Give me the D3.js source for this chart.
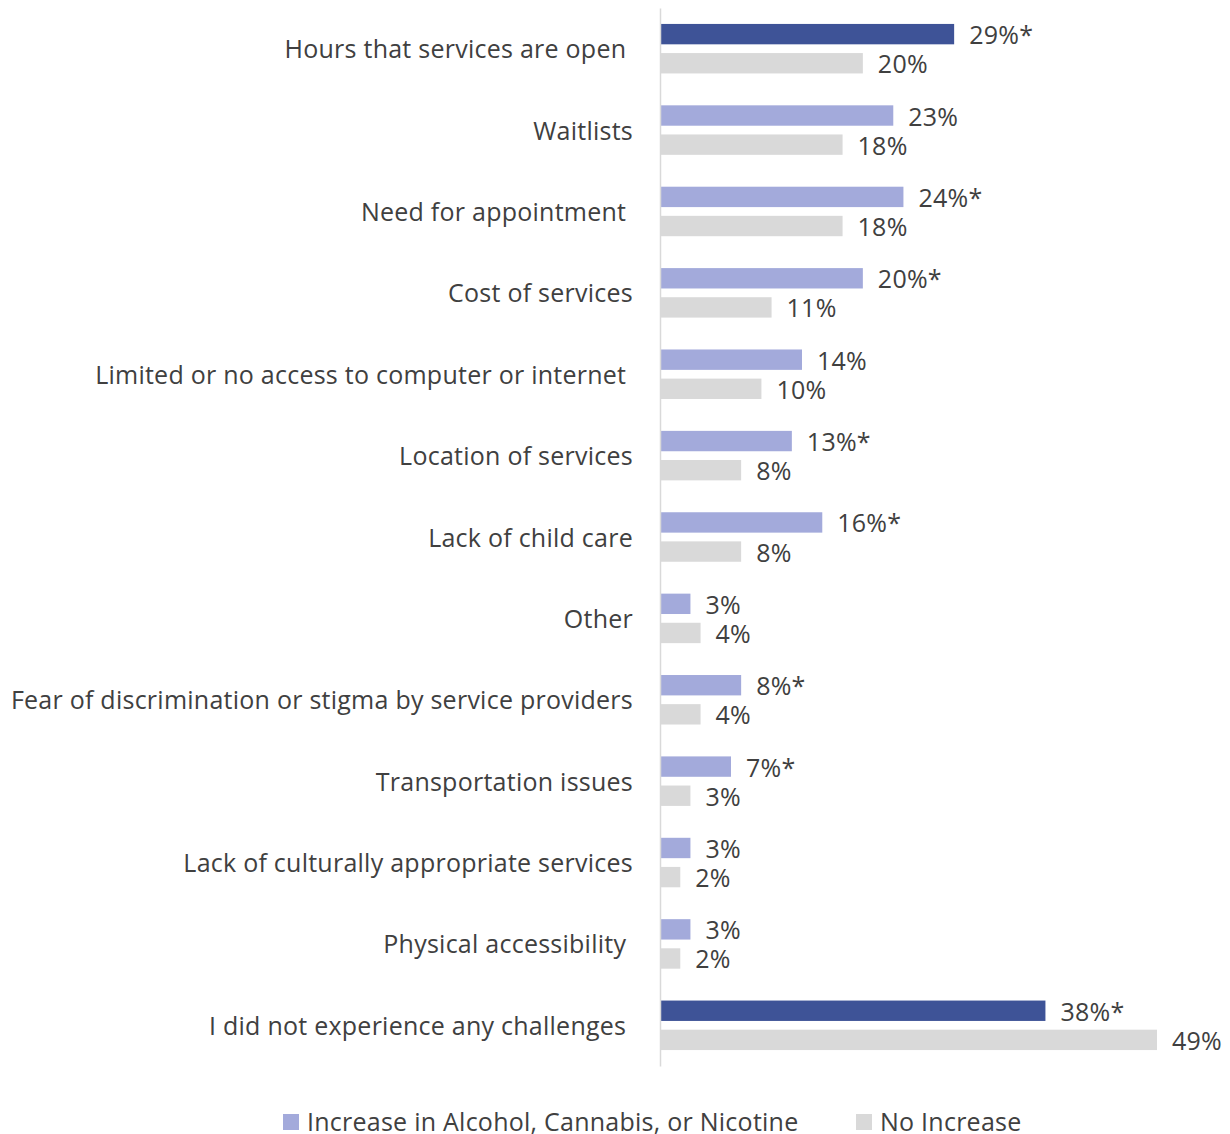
<!DOCTYPE html>
<html>
<head>
<meta charset="utf-8">
<script src="https://cdn.jsdelivr.net/npm/d3@7"></script>
<style>
  html, body { margin: 0; padding: 0; background: #ffffff; }
  svg { display: block; }
  text { font-family: "Open Sans", "Noto Sans", sans-serif; fill: #404040; letter-spacing: 0.25px; }
</style>
</head>
<body>
<svg id="chart" width="1230" height="1134"></svg>
<script>
// Barriers to accessing services, by change in substance use
const categories = [
  "Hours that services are open ",
  "Waitlists",
  "Need for appointment ",
  "Cost of services",
  "Limited or no access to computer or internet ",
  "Location of services",
  "Lack of child care",
  "Other",
  "Fear of discrimination or stigma by service providers",
  "Transportation issues",
  "Lack of culturally appropriate services",
  "Physical accessibility ",
  "I did not experience any challenges "
];
const increaseValues = [29, 23, 24, 20, 14, 13, 16, 3, 8, 7, 3, 3, 38];
const noIncreaseValues = [20, 18, 18, 11, 10, 8, 8, 4, 4, 3, 2, 2, 49];
// significance flags (marked with an asterisk)
const significant = [true, false, true, true, false, true, true, false, true, true, false, false, true];
// bars shown in the darker shade
const emphasised = [true, false, false, false, false, false, false, false, false, false, false, false, true];
const seriesNames = ["Increase in Alcohol, Cannabis, or Nicotine", "No Increase"];

const colors = { inc: "#A3AADB", incDark: "#3E5397", none: "#D9D9D9" };

const svg = d3.select("#chart");
const fontSize = 25;

const x = d3.scaleLinear().domain([0, 49]).range([660, 1157]);
const y = d3.scaleBand().domain(categories).range([8, 1066]).paddingInner(0).paddingOuter(0);
const sub = d3.scaleBand().domain(["inc", "none"]).range([0, 49.5]).paddingInner(0.3);
const groupOffset = (y.bandwidth() - 49.5) / 2;

const groups = svg.append("g").selectAll("g")
  .data(categories.map((c, i) => ({ c, i })))
  .join("g")
  .attr("transform", d => `translate(0,${y(d.c) + groupOffset})`);

// increase bars
groups.append("rect")
  .attr("x", x(0))
  .attr("y", sub("inc"))
  .attr("width", d => x(increaseValues[d.i]) - x(0))
  .attr("height", sub.bandwidth())
  .attr("fill", d => emphasised[d.i] ? colors.incDark : colors.inc);

// no-increase bars
groups.append("rect")
  .attr("x", x(0))
  .attr("y", sub("none"))
  .attr("width", d => x(noIncreaseValues[d.i]) - x(0))
  .attr("height", sub.bandwidth())
  .attr("fill", colors.none);

// value labels
groups.append("text")
  .attr("x", d => x(increaseValues[d.i]) + 15)
  .attr("y", sub("inc") + sub.bandwidth() / 2 + 1)
  .attr("dy", "0.36em")
  .style("font-size", fontSize + "px")
  .text(d => increaseValues[d.i] + "%" + (significant[d.i] ? "*" : ""));

groups.append("text")
  .attr("x", d => x(noIncreaseValues[d.i]) + 15)
  .attr("y", sub("none") + sub.bandwidth() / 2 + 1)
  .attr("dy", "0.36em")
  .style("font-size", fontSize + "px")
  .text(d => noIncreaseValues[d.i] + "%");

// category axis
const axis = svg.append("g")
  .attr("transform", `translate(${x(0)},0)`)
  .call(d3.axisLeft(y).tickSize(0).tickPadding(27));
axis.select(".domain").attr("stroke", "#D9D9D9").attr("stroke-width", 1.5);
axis.selectAll(".tick text")
  .attr("fill", "#404040")
  .attr("dy", "0.38em")
  .style("font-size", fontSize + "px")
  .style("font-family", "\"Open Sans\", sans-serif")
  .style("white-space", "pre");

// legend
const legendItems = [
  { name: seriesNames[0], color: colors.inc, x: 283 },
  { name: seriesNames[1], color: colors.none, x: 856 }
];
const legend = svg.append("g").selectAll("g").data(legendItems).join("g")
  .attr("transform", d => `translate(${d.x},1114)`);
legend.append("rect").attr("width", 16).attr("height", 16).attr("fill", d => d.color);
legend.append("text")
  .attr("x", 24).attr("y", 8).attr("dy", "0.34em")
  .style("font-size", fontSize + "px")
  .text(d => d.name);
</script>
</body>
</html>
